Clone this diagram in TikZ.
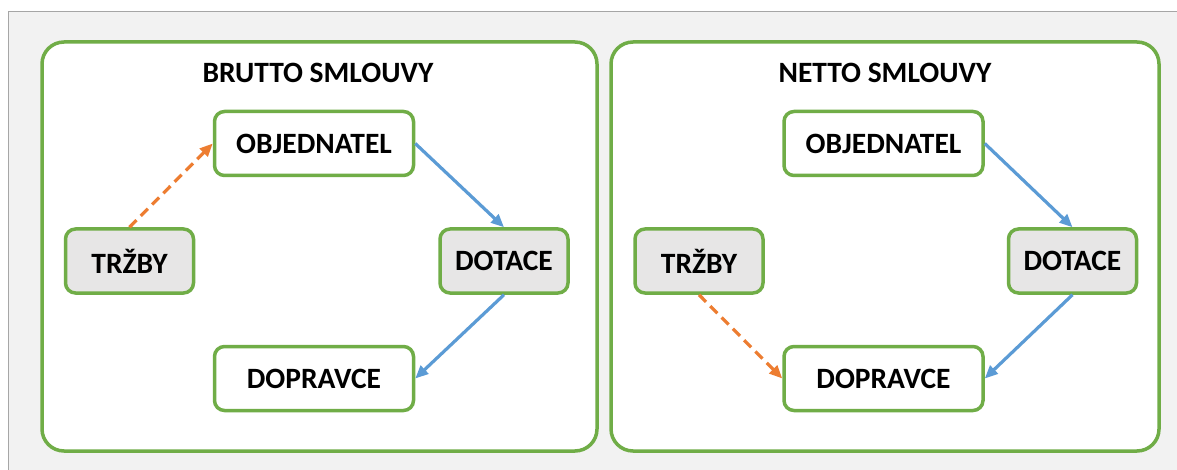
\documentclass[tikz,border=0pt]{standalone}
\usepackage{fontspec}
\setmainfont{Carlito}
\usetikzlibrary{arrows.meta}
\definecolor{zelena}{HTML}{70AD47}
\definecolor{modra}{HTML}{5B9BD5}
\definecolor{oranz}{HTML}{ED7D31}
\definecolor{seda}{HTML}{E7E6E6}
\definecolor{pozadi}{HTML}{F2F2F2}
\newcommand{\tok}[2]{\path (#1) edge (#2); }
\newcommand{\tokd}[2]{\path (#1) edge [carka,draw=oranz] (#2); }

\begin{document}
\begin{tikzpicture}[x=1pt,y=-1pt,line width=3.2pt,draw=modra,->,>={Triangle[length=13pt,width=11pt]},
  every node/.style={font=\fontsize{29.5}{35}\selectfont\bfseries},
  box/.style={draw=zelena,line width=3.5pt,rounded corners=10pt,fill=white,inner sep=0pt,minimum height=64pt},
  big/.style={box,minimum width=199pt},
  small/.style={box,fill=seda,minimum width=128pt},
  panel/.style={draw=zelena,line width=3.5pt,rounded corners=22pt,fill=white},
  carka/.style={dash pattern=on 10pt off 6pt}]
  \useasboundingbox (0,0) rectangle (1177,470);
  \fill[pozadi] (8,12) rectangle (1177,470);
  \draw[-,gray!70,line width=1pt] (8,470) -- (8,12) -- (1177,12);
  \draw[-,panel] (42,42) rectangle (597,451);
  \draw[-,panel] (611,42) rectangle (1159,451);
  % brutto
  \node (bh) at (318,73) {BRUTTO SMLOUVY};
  \node[big] (bo) at (314,143.5) {OBJEDNATEL};
  \node[small] (bt) at (129.5,261) {TRŽBY};
  \node[small] (bd) at (504,261) {DOTACE};
  \node[big] (bp) at (314,378.5) {DOPRAVCE};
  \tokd{bt.north}{bo.west}
  \tok{bo.east}{bd.north}
  \tok{bd.south}{bp.east}
  % netto
  \node (nh) at (885,73) {NETTO SMLOUVY};
  \node[big] (no) at (883.5,143.5) {OBJEDNATEL};
  \node[small] (nt) at (699,261) {TRŽBY};
  \node[small] (nd) at (1072.5,261) {DOTACE};
  \node[big] (np) at (883.5,378.5) {DOPRAVCE};
  \tokd{nt.south}{np.west}
  \tok{no.east}{nd.north}
  \tok{nd.south}{np.east}
\end{tikzpicture}
\end{document}
